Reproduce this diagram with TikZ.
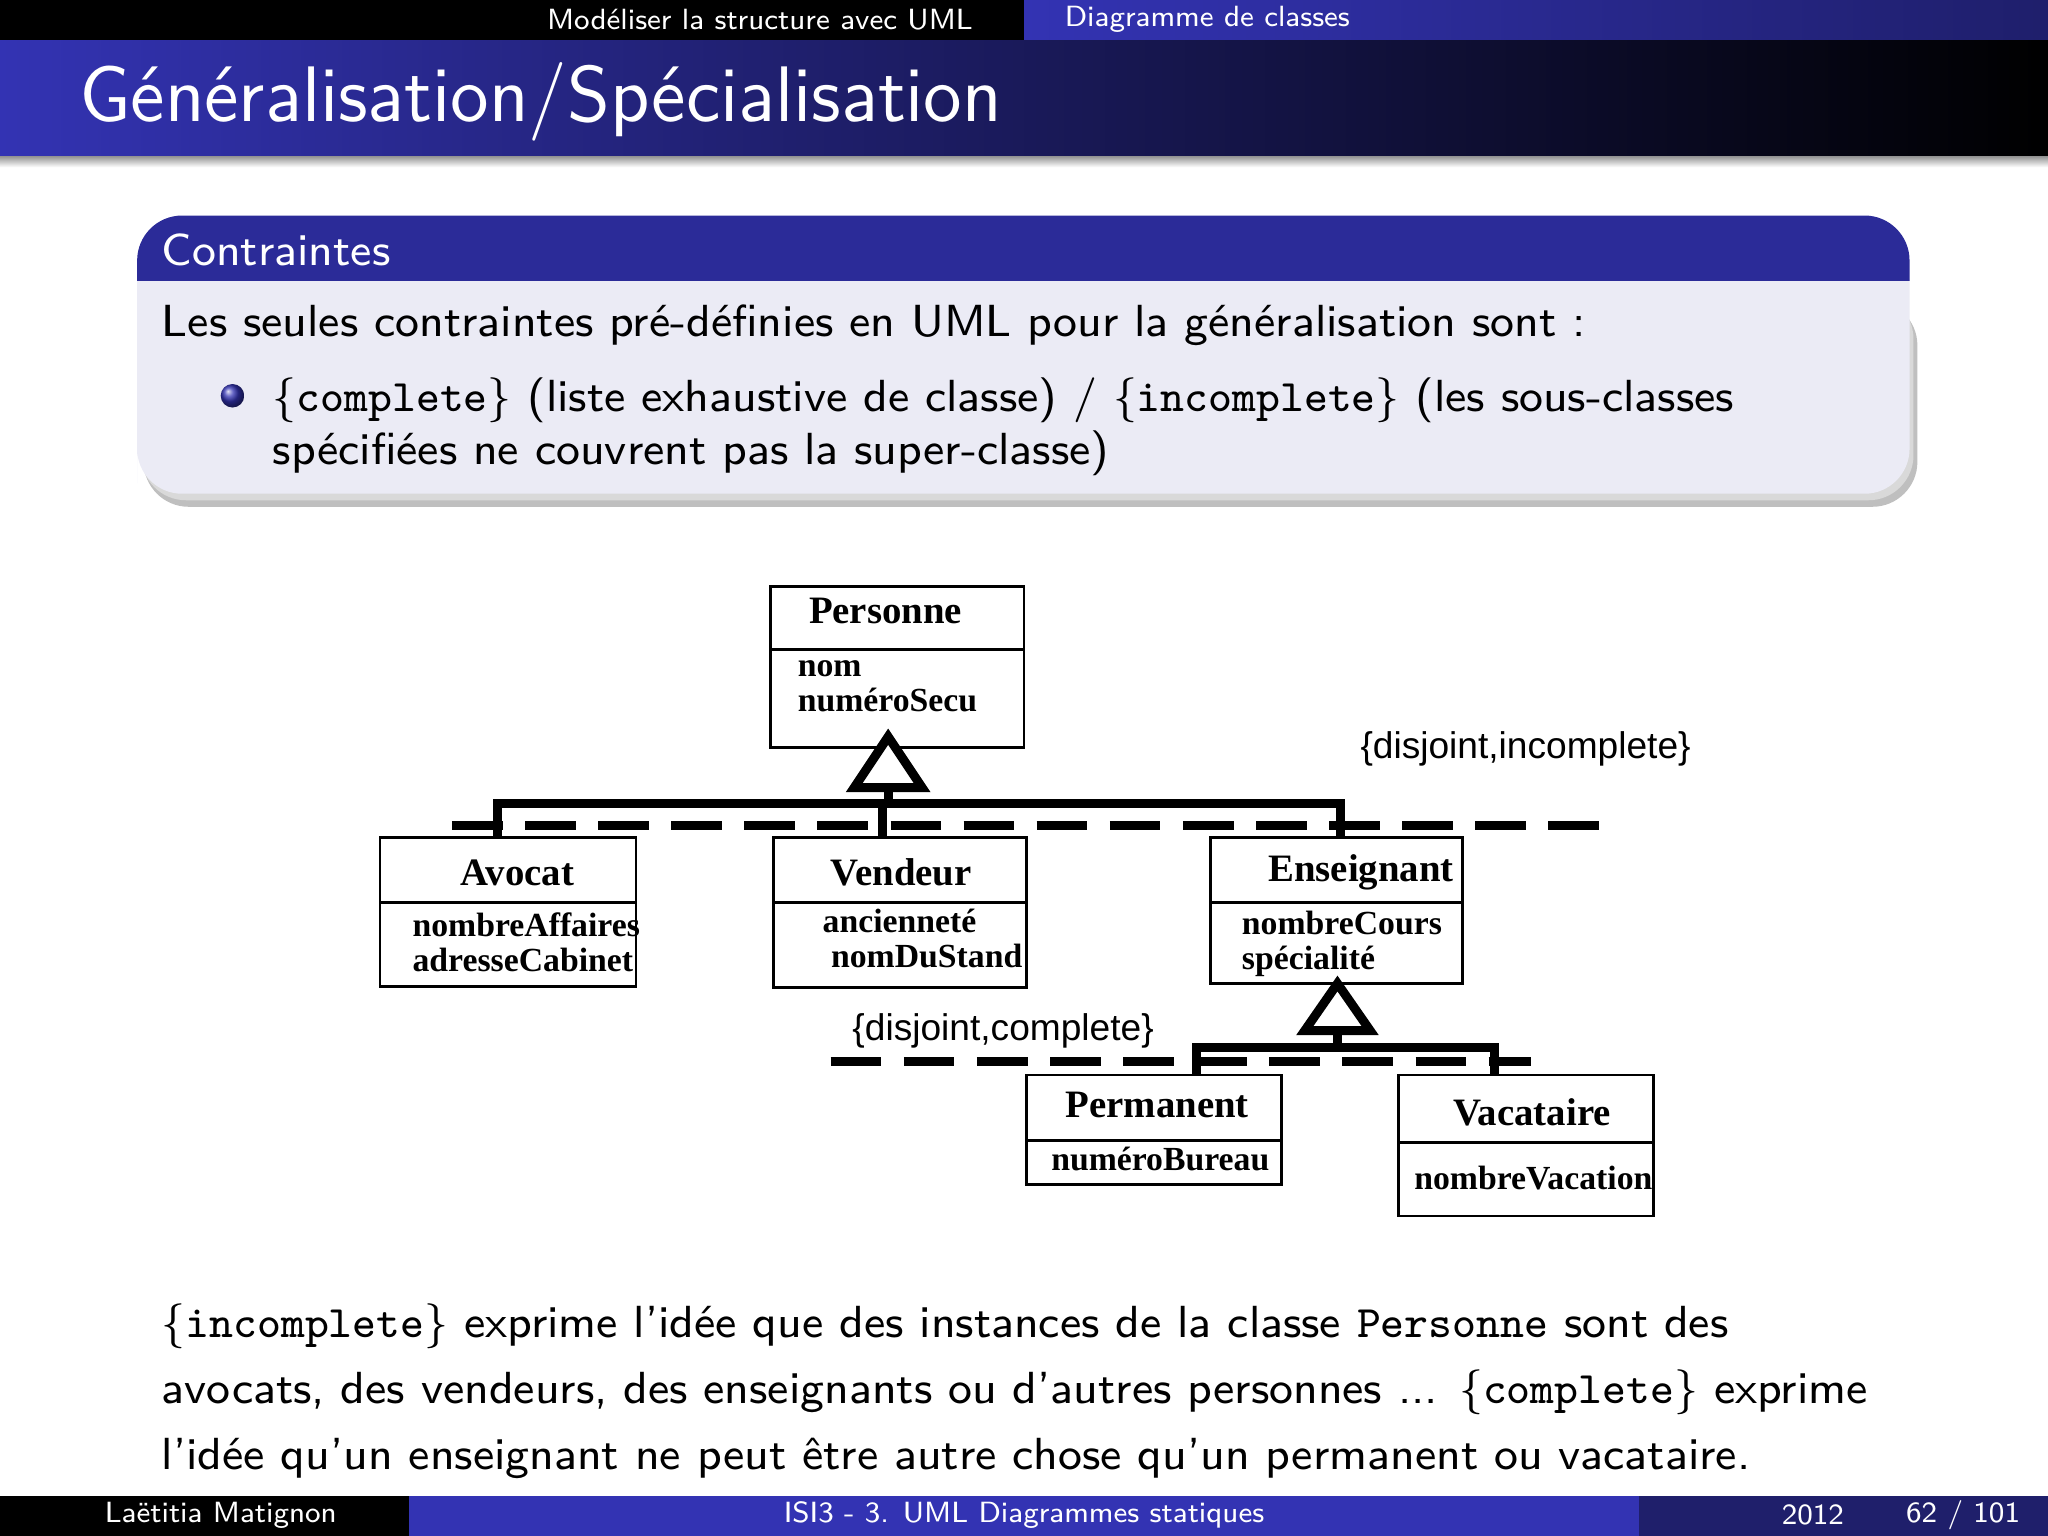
\documentclass[tikz,border=0pt]{standalone}
\usepackage{fontspec}
\newfontfamily\umlser{Liberation Serif}
\newfontfamily\umlsans{Liberation Sans}
\usetikzlibrary{shadows}
\definecolor{bblue}{RGB}{51,51,179}
\definecolor{bodyc}{RGB}{235,235,245}
\begin{document}
\begin{tikzpicture}[x=0.008163cm,y=-0.008163cm,
  cls/.style={draw,line width=0.5pt},
  thick line/.style={line width=1.6pt},
  dline/.style={line width=1.6pt,dash pattern=on 9pt off 4pt},
  cname/.style={font=\umlser\bfseries\fontsize{6.9}{8}\selectfont},
  attr/.style={font=\umlser\bfseries\fontsize{6}{6.2}\selectfont,align=left,anchor=north west,inner sep=0},
  cons/.style={font=\umlsans\fontsize{6.6}{8}\selectfont}]
\useasboundingbox (0,0) rectangle (1568,1176);
\sffamily
% header
\fill[black] (0,0) rectangle (784,31);
\shade[left color=bblue,right color=bblue!60!black] (784,0) rectangle (1568,31);
\node[text=white,anchor=east,font=\fontsize{5.2}{6}\selectfont] (h1) at (760,15) {Modéliser la structure avec UML};
\node[text=white,anchor=west,font=\fontsize{5.2}{6}\selectfont] (h2) at (800,15) {Diagramme de classes};
\shade[left color=bblue,right color=black] (0,31) rectangle (1568,120);
\shade[top color=black!40,bottom color=white] (0,120) rectangle (1568,128);
\node[text=white,anchor=west,inner sep=0,font=\fontsize{14}{16}\selectfont] (title) at (60,78) {Généralisation/Spécialisation};
% block
\fill[black!25,rounded corners=8] (110,230) rectangle (1468,388);
\fill[black!15,rounded corners=8] (108,225) rectangle (1465,383);
\fill[bodyc] (105,214) [sharp corners] -- (105,370) [rounded corners=8] -- (105,378) -- (1462,378) [sharp corners] -- (1462,214) -- cycle;
\fill[bblue!85!black] (105,215) [rounded corners=8] -- (105,165) -- (1462,165) [sharp corners] -- (1462,215) -- cycle;
\node[text=white,anchor=west,inner sep=0,font=\fontsize{8}{10}\selectfont] (bt) at (123,191) {Contraintes};
\node[anchor=west,inner sep=0,font=\fontsize{8}{10}\selectfont] (b1) at (123,249) {Les seules contraintes pré-définies en UML pour la généralisation sont :};
\shade[ball color=bblue] (178,303) circle (9);
\node[anchor=north west,align=left,font=\fontsize{8}{9.5}\selectfont,inner sep=0] (b2) at (208,288) {\{\texttt{complete}\} (liste exhaustive de classe) / \{\texttt{incomplete}\} (les sous-classes\\spécifiées ne couvrent pas la super-classe)};
% classes
\draw[cls] (590,449) rectangle (784,572); \draw[cls] (590,497) -- (784,497);
\node[cname] (pers) at (678,468) {Personne};
\node[attr] at (610,505) {nom\\numéroSecu};
\draw[cls] (291,641) rectangle (487,755); \draw[cls] (291,691) -- (487,691);
\node[cname] (avo) at (396,668) {Avocat};
\node[attr] at (315,698) {nombreAffaires\\adresseCabinet};
\draw[cls] (592,641) rectangle (786,756); \draw[cls] (592,691) -- (786,691);
\node[cname] (ven) at (690,668) {Vendeur};
\node[attr] at (629,695) {ancienneté\\\ nomDuStand};
\draw[cls] (927,641) rectangle (1120,753); \draw[cls] (927,691) -- (1120,691);
\node[cname] (ens) at (1042,668) {Enseignant};
\node[attr] at (950,697) {nombreCours\\spécialité};
\draw[cls] (786,823) rectangle (981,907); \draw[cls] (786,873) -- (981,873);
\node[cname] (perm) at (886,846) {Permanent};
\node[attr] at (804,877) {numéroBureau};
\draw[cls] (1071,823) rectangle (1266,931); \draw[cls] (1071,875) -- (1266,875);
\node[cname] (vac) at (1173,852) {Vacataire};
\node[attr] at (1082,892) {nombreVacation};
% generalisation 1
\draw[thick line,fill=white] (680,564) -- (706,603) -- (654,603) -- cycle;
\draw[thick line] (680,603) -- (680,615);
\draw[thick line] (381,642) -- (381,615) -- (1026,615) -- (1026,642);
\draw[thick line] (676,615) -- (676,642);
\draw[dline] (346,632) -- (1228,632);
\node[cons] (c1) at (1168,573) {\{disjoint,incomplete\}};
% generalisation 2
\draw[thick line,fill=white] (1024,753) -- (1049,789) -- (999,789) -- cycle;
\draw[thick line] (1024,789) -- (1024,802);
\draw[thick line] (916,823) -- (916,802) -- (1144,802) -- (1144,823);
\draw[dline] (636,813) -- (1172,813);
\node[cons] (c2) at (768,789) {\{disjoint,complete\}};
% bottom text
\node[anchor=north west,align=left,font=\fontsize{8}{11.8}\selectfont,inner sep=0] (txt) at (123,997) {\{\texttt{incomplete}\} exprime l'idée que des instances de la classe \texttt{Personne} sont des\\avocats, des vendeurs, des enseignants ou d'autres personnes ... \{\texttt{complete}\} exprime\\l'idée qu'un enseignant ne peut être autre chose qu'un permanent ou vacataire.};
% footer
\fill[black] (0,1145) rectangle (313,1176);
\fill[bblue] (313,1145) rectangle (1255,1176);
\fill[bblue!60!black] (1255,1145) rectangle (1568,1176);
\node[text=white,anchor=west,font=\fontsize{5.2}{6}\selectfont] (f1) at (65,1160) {Laëtitia Matignon};
\node[text=white,font=\fontsize{5.2}{6}\selectfont] (f2) at (784,1160) {ISI3 - 3. UML Diagrammes statiques};
\node[text=white,font=\fontsize{5.2}{6}\selectfont] (f3) at (1388,1160) {2012};
\node[text=white,font=\fontsize{5.2}{6}\selectfont] (f4) at (1503,1160) {62 / 101};
\end{tikzpicture}
\end{document}
